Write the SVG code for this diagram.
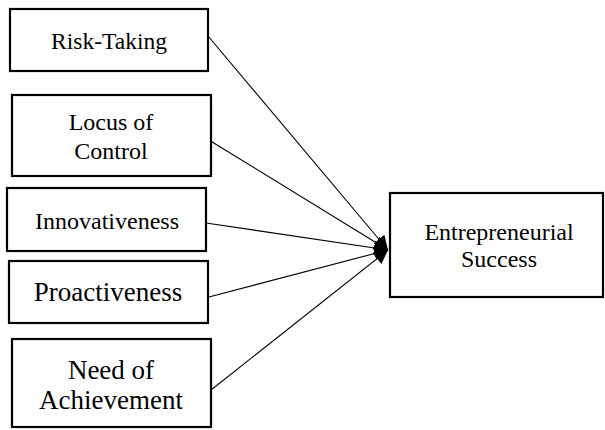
<svg xmlns="http://www.w3.org/2000/svg" width="605" height="430" viewBox="0 0 605 430">
<style>
.box{fill:#fff;stroke:#000;stroke-width:2.2}
.t{font-family:"Liberation Serif","Times New Roman",serif;fill:#000;text-anchor:middle}
.c{stroke:#000;stroke-width:1.1;fill:none;marker-end:url(#ah)}
</style>
<defs>
<marker id="ah" markerUnits="userSpaceOnUse" markerWidth="16" markerHeight="14" refX="14" refY="7" orient="auto">
<path d="M0,0 L14,7 L0,14 Z" fill="#000"/>
</marker>
</defs>
<rect width="605" height="430" fill="#fff"/>
<g id="connectors">
<line class="c" x1="208" y1="36" x2="388" y2="250"/>
<line class="c" x1="204" y1="137" x2="388" y2="250"/>
<line class="c" x1="206" y1="223" x2="388" y2="250"/>
<line class="c" x1="209" y1="297" x2="388" y2="250"/>
<line class="c" x1="211" y1="390" x2="388" y2="250"/>
</g>
<g id="risk-taking">
<rect class="box" x="10" y="9" width="198" height="62"/>
<text class="t" x="109" y="49" font-size="23.5">Risk-Taking</text>
</g>
<g id="locus-of-control">
<rect class="box" x="12" y="95" width="199" height="81"/>
<text class="t" x="111" y="130" font-size="24">Locus of</text>
<text class="t" x="111" y="159" font-size="24">Control</text>
</g>
<g id="innovativeness">
<rect class="box" x="7" y="188" width="199" height="63"/>
<text class="t" x="107" y="229" font-size="24">Innovativeness</text>
</g>
<g id="proactiveness">
<rect class="box" x="9" y="261" width="199" height="62"/>
<text class="t" x="108" y="301" font-size="27">Proactiveness</text>
</g>
<g id="need-of-achievement">
<rect class="box" x="12" y="339" width="199" height="88"/>
<text class="t" x="111" y="379" font-size="27">Need of</text>
<text class="t" x="111" y="409" font-size="27">Achievement</text>
</g>
<g id="entrepreneurial-success">
<rect class="box" x="390" y="193" width="213" height="104"/>
<text class="t" x="499" y="240" font-size="24">Entrepreneurial</text>
<text class="t" x="499" y="267" font-size="24">Success</text>
</g>
</svg>
